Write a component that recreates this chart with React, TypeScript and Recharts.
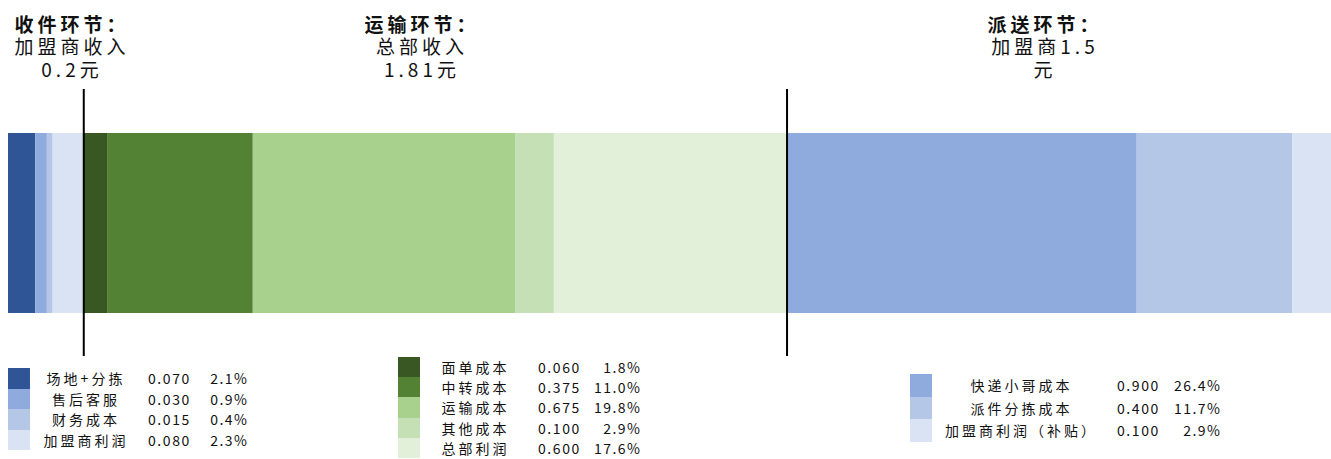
import React from "react";
import { BarChart, Bar, XAxis, YAxis, ReferenceLine } from "recharts";

// Cost breakdown of one parcel (yuan), in stacking order along the bar
const segmentNames = [
  "场地+分拣", "售后客服", "财务成本", "加盟商利润",
  "面单成本", "中转成本", "运输成本", "其他成本", "总部利润",
  "快递小哥成本", "派件分拣成本", "加盟商利润（补贴）",
];
const segmentValues = [
  0.07, 0.03, 0.015, 0.08,
  0.06, 0.375, 0.675, 0.1, 0.6,
  0.9, 0.4, 0.1,
];
const segmentColors = [
  "#2F5597", "#8FAADC", "#B4C7E7", "#DAE3F3",
  "#385723", "#548235", "#A9D18E", "#C5E0B4", "#E2F0D9",
  "#8FAADC", "#B4C7E7", "#DAE3F3",
];

// Stage headings and which segments belong to each stage
const stageTitles = ["收件环节：", "运输环节：", "派送环节："];
const stageSubtitles = [
  ["加盟商收入", "0.2元"],
  ["总部收入", "1.81元"],
  ["加盟商1.5", "元"],
];
const stageRanges = [
  [0, 4],
  [4, 9],
  [9, 12],
];

const total = segmentValues.reduce((a, b) => a + b, 0);
const keys = segmentValues.map((_, i) => `s${i}`);
const row: Record<string, number | string> = { name: "快递" };
keys.forEach((k, i) => (row[k] = segmentValues[i]));
const chartData = [row];

// Boundaries between stages (cumulative yuan)
const stageBoundaries = [
  segmentValues.slice(0, 4).reduce((a, b) => a + b, 0),
  segmentValues.slice(0, 9).reduce((a, b) => a + b, 0),
];

const FONT = '"Noto Sans CJK SC", "Noto Sans", sans-serif';

const titleCenters = [70, 420, 1043];
const legendLayout = [
  { swatchX: 8, top: 368, rowH: 20.5, labelCx: 84.5, valueX: 148, pctRight: 247 },
  { swatchX: 398, top: 357, rowH: 20.2, labelCx: 474, valueX: 538, pctRight: 640 },
  { swatchX: 910, top: 374, rowH: 22.7, labelCx: 1020, valueX: 1117, pctRight: 1220 },
];

function StageTitle({ idx }: { idx: number }) {
  const cx = titleCenters[idx];
  const lines = [stageTitles[idx], ...stageSubtitles[idx]];
  return (
    <>
      {lines.map((t, j) => (
        <div
          key={j}
          style={{
            position: "absolute",
            left: cx - 150,
            width: 300,
            top: 12.75 + j * 22.5,
            height: 22.5,
            lineHeight: "22.5px",
            textAlign: "center",
            fontFamily: FONT,
            fontSize: 19,
            fontWeight: j === 0 ? 700 : 400,
            letterSpacing: 4,
            paddingLeft: 4,
            boxSizing: "border-box",
            color: "#111",
            whiteSpace: "nowrap",
          }}
        >
          {t}
        </div>
      ))}
    </>
  );
}

function LegendGroup({ idx }: { idx: number }) {
  const L = legendLayout[idx];
  const [from, to] = stageRanges[idx];
  const items = [];
  for (let i = from; i < to; i++) {
    const r = i - from;
    const y = L.top + r * L.rowH;
    const textStyle: React.CSSProperties = {
      position: "absolute",
      top: y,
      height: L.rowH,
      lineHeight: `${L.rowH}px`,
      fontFamily: FONT,
      fontSize: 14,
      color: "#111",
      whiteSpace: "nowrap",
    };
    items.push(
      <React.Fragment key={i}>
        <div
          style={{
            position: "absolute",
            left: L.swatchX,
            top: y,
            width: 22,
            height: L.rowH,
            background: segmentColors[i],
          }}
        />
        <div
          style={{
            ...textStyle,
            left: L.labelCx - 100,
            width: 200,
            textAlign: "center",
            letterSpacing: 3,
            paddingLeft: 3,
            boxSizing: "border-box",
          }}
        >
          {segmentNames[i]}
        </div>
        <div style={{ ...textStyle, left: L.valueX, letterSpacing: 1.6 }}>
          {segmentValues[i].toFixed(3)}
        </div>
        <div
          style={{
            ...textStyle,
            left: L.pctRight - 78.5,
            width: 80,
            textAlign: "right",
            letterSpacing: 1.5,
          }}
        >
          {((segmentValues[i] / total) * 100).toFixed(1) + "%"}
        </div>
      </React.Fragment>
    );
  }
  return <>{items}</>;
}

export default function App() {
  return (
    <div
      style={{
        position: "absolute",
        left: 0,
        top: 0,
        width: 1331,
        height: 459,
        background: "#fff",
        overflow: "hidden",
      }}
    >
      <div style={{ position: "absolute", left: 8, top: 89 }}>
        <BarChart
          width={1323}
          height={267}
          data={chartData}
          layout="vertical"
          margin={{ top: 0, right: 0, bottom: 0, left: 0 }}
          barCategoryGap={0}
        >
          <XAxis type="number" domain={[0, total]} hide />
          <YAxis type="category" dataKey="name" hide />
          {keys.map((k, i) => (
            <Bar
              key={k}
              dataKey={k}
              stackId="cost"
              fill={segmentColors[i]}
              barSize={180}
              isAnimationActive={false}
            />
          ))}
          {stageBoundaries.map((b, i) => (
            <ReferenceLine key={i} x={b} stroke="#000" strokeWidth={2} ifOverflow="extendDomain" />
          ))}
        </BarChart>
      </div>
      {[0, 1, 2].map((i) => (
        <StageTitle key={`t${i}`} idx={i} />
      ))}
      {[0, 1, 2].map((i) => (
        <LegendGroup key={`l${i}`} idx={i} />
      ))}
    </div>
  );
}
